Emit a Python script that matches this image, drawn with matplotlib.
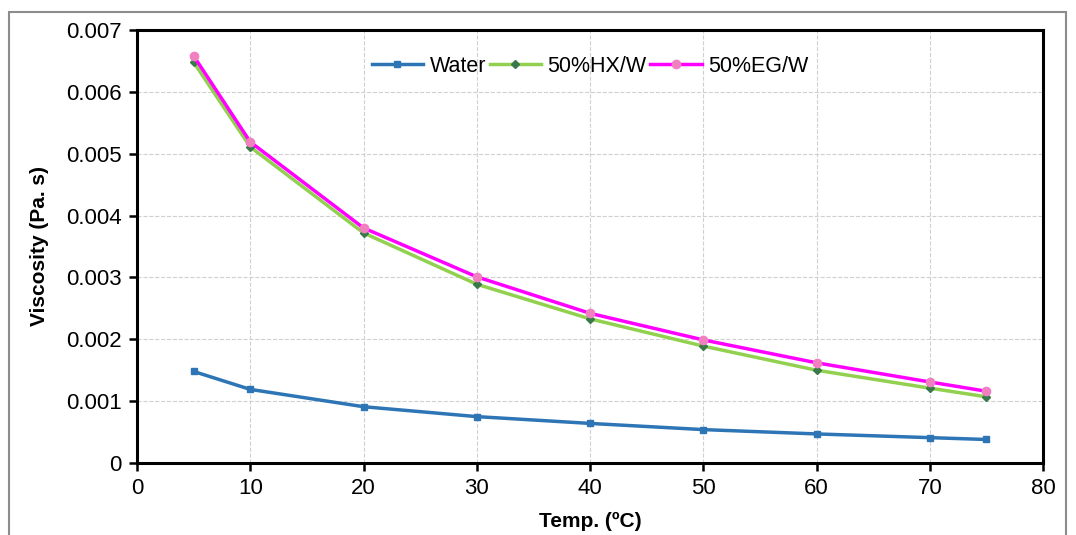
import matplotlib
matplotlib.use("Agg")
import matplotlib.pyplot as plt
from matplotlib.patches import Rectangle

# temperatures (C) and viscosities (Pa.s)
temps = [5, 10, 20, 30, 40, 50, 60, 70, 75]
water = [0.00148, 0.00119, 0.00091, 0.00075, 0.00064, 0.00054, 0.00047, 0.00041, 0.00038]
hx_w = [0.00648, 0.00511, 0.00372, 0.00289, 0.00233, 0.00189, 0.00150, 0.00121, 0.00107]
eg_w = [0.00658, 0.00519, 0.00380, 0.00301, 0.00242, 0.00199, 0.00162, 0.00131, 0.00116]

x_ticks = [0, 10, 20, 30, 40, 50, 60, 70, 80]
y_ticks = [0, 0.001, 0.002, 0.003, 0.004, 0.005, 0.006, 0.007]
y_labels = ["0", "0.001", "0.002", "0.003", "0.004", "0.005", "0.006", "0.007"]

plt.rcParams['font.family'] = ['Liberation Sans', 'DejaVu Sans']

fig = plt.figure(figsize=(10.76, 5.35), dpi=100)
ax = fig.add_axes([137 / 1076, 1 - 463 / 535, (1043 - 137) / 1076, (463 - 30) / 535])

# outer gray frame
fig.patches.append(Rectangle((9 / 1076, -0.05), (1066 - 9) / 1076, 1 - 12 / 535 + 0.05,
                             transform=fig.transFigure, fill=False,
                             edgecolor='#8c8c8c', linewidth=1.5))

ax.plot(temps, water, color='#2e75b6', lw=2.5, marker='s', ms=4,
        mfc='#2e75b6', mec='#2e75b6', label='Water', zorder=3)
ax.plot(temps, hx_w, color='#92d050', lw=2.5, marker='D', ms=4,
        mfc='#3a7a4a', mec='#3a7a4a', label='50%HX/W', zorder=3)
ax.plot(temps, eg_w, color='#ff00ff', lw=2.5, marker='o', ms=6,
        mfc='#f080c0', mec='#f080c0', label='50%EG/W', zorder=4)

ax.set_xlim(0, 80)
ax.set_ylim(0, 0.007)
ax.set_xticks(x_ticks)
ax.set_yticks(y_ticks)
ax.set_yticklabels(y_labels)
ax.tick_params(axis='both', direction='out', length=6, width=1.8, labelsize=16)
ax.tick_params(axis='x', pad=5)
ax.tick_params(axis='y', pad=5)
ax.grid(True, color='#d0d0d0', linestyle='--', linewidth=0.8)
ax.set_axisbelow(True)

for side in ['left', 'bottom', 'right', 'top']:
    ax.spines[side].set_linewidth(2.2)
    ax.spines[side].set_color('black')

ax.set_xlabel('Temp. (ºC)', fontsize=15, fontweight='bold', labelpad=9)
ax.set_ylabel('Viscosity (Pa. s)', fontsize=15, fontweight='bold', labelpad=12)

ax.legend(loc='upper center', bbox_to_anchor=(0.5, 0.985), ncol=3, frameon=False,
          fontsize=15.5, handlelength=2.4, handletextpad=0.3, columnspacing=0.15)

fig.savefig('out.png', dpi=100)
